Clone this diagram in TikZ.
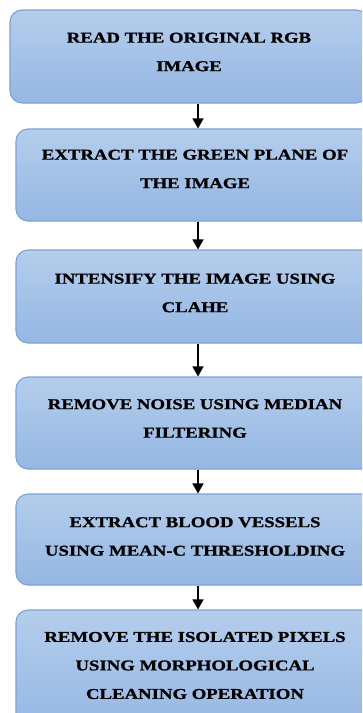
\documentclass[tikz,border=0pt]{standalone}
\usepackage{fontspec}
\setmainfont{Liberation Serif}[FakeStretch=1.25, BoldFeatures={FakeBold=1}]
\usetikzlibrary{arrows.meta}
\definecolor{boxtop}{HTML}{B4CDEC}
\definecolor{boxbot}{HTML}{95B7E3}
\definecolor{boxline}{HTML}{7AA4D9}
\tikzset{
  x=1bp, y=-1bp,
  stepbox/.style={draw=boxline, line width=1.1bp, rounded corners=12bp,
    top color=boxtop, bottom color=boxbot, minimum width=358bp, inner sep=0pt},
  steptext/.style={align=center, inner sep=0pt,
    font=\fontsize{15bp}{28.5bp}\selectfont\bfseries},
  flow/.style={line width=1.5bp, -{Triangle[width=11bp,length=10bp]}}
}
\begin{document}
\begin{tikzpicture}
\useasboundingbox (0,0) rectangle (362,713);
\clip (0,0) rectangle (362,713);
\fill[white] (0,0) rectangle (362,713);
\node[stepbox, minimum height=93bp] (b1) at (189,56.5) {};
\node[stepbox, minimum height=92bp] (b2) at (195,175) {};
\node[stepbox, minimum height=93bp] (b3) at (195,296.5) {};
\node[stepbox, minimum height=92bp] (b4) at (195,423) {};
\node[stepbox, minimum height=91bp] (b5) at (195,539.5) {};
\node[stepbox, minimum height=123bp] (b6) at (195,671.5) {};
\node[steptext] (t1) at (189,52) {READ THE ORIGINAL RGB\\IMAGE};
\node[steptext] (t2) at (195,169) {EXTRACT THE GREEN PLANE OF\\THE IMAGE};
\node[steptext] (t3) at (195,293) {INTENSIFY THE IMAGE USING\\CLAHE};
\node[steptext] (t4) at (195,418.5) {REMOVE NOISE USING MEDIAN\\FILTERING};
\node[steptext] (t5) at (195,536.5) {EXTRACT BLOOD VESSELS\\USING MEAN-C THRESHOLDING};
\node[steptext] (t6) at (195,665.5) {REMOVE THE ISOLATED PIXELS\\USING MORPHOLOGICAL\\CLEANING OPERATION};
\coordinate (ax) at (198,0);
\draw[flow] (b1.south -| ax) -- (b2.north -| ax);
\draw[flow] (b2.south -| ax) -- (b3.north -| ax);
\draw[flow] (b3.south -| ax) -- (b4.north -| ax);
\draw[flow] (b4.south -| ax) -- (b5.north -| ax);
\draw[flow] (b5.south -| ax) -- (b6.north -| ax);
\end{tikzpicture}
\end{document}
